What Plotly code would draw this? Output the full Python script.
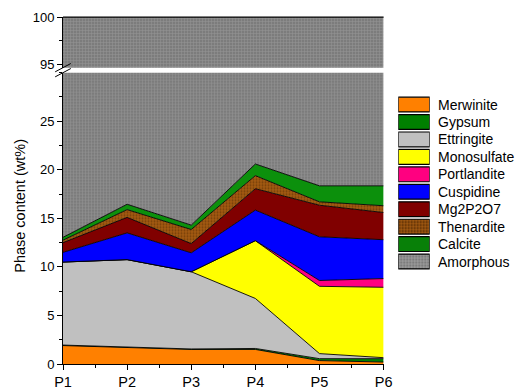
import plotly.graph_objects as go

samples = ["P1", "P2", "P3", "P4", "P5", "P6"]
merwinite   = [1.9, 1.7, 1.5, 1.5, 0.35, 0.2]
gypsum      = [0.05, 0.05, 0.05, 0.1, 0.2, 0.35]
ettringite  = [8.55, 9.0, 7.95, 5.15, 0.52, 0.1]
monosulfate = [0.0, 0.0, 0.0, 5.95, 6.93, 7.25]
portlandite = [0.0, 0.0, 0.0, 0.0, 0.6, 0.9]
cuspidine   = [1.0, 2.75, 1.95, 3.15, 4.5, 4.0]
mg2p2o7     = [1.0, 1.6, 0.95, 2.2, 3.25, 2.8]
thenardite  = [0.25, 0.8, 1.45, 1.35, 0.35, 0.7]
calcite     = [0.3, 0.55, 0.45, 1.2, 1.65, 2.05]
crystalline = [merwinite, gypsum, ettringite, monosulfate, portlandite,
               cuspidine, mg2p2o7, thenardite, calcite]
amorphous = [100 - sum(v[i] for v in crystalline) for i in range(len(samples))]
total = [100.0] * len(samples)

x = list(range(len(samples)))

pat_then = dict(shape=".", fgcolor="#4a2400", bgcolor="#A35A12", size=3, solidity=0.35)
pat_calc = dict(shape="|", fgcolor="#006000", bgcolor="#10A010", size=2, solidity=0.5)
pat_amor = dict(shape="+", fgcolor="#b0b0b0", bgcolor="#7c7c7c", size=3, solidity=0.3)

series = [
    ("Merwinite", merwinite, "#FF8000", None),
    ("Gypsum", gypsum, "#008000", None),
    ("Ettringite", ettringite, "#C0C0C0", None),
    ("Monosulfate", monosulfate, "#FFFF00", None),
    ("Portlandite", portlandite, "#FF0080", None),
    ("Cuspidine", cuspidine, "#0000FF", None),
    ("Mg2P2O7", mg2p2o7, "#800000", None),
    ("Thenardite", thenardite, "#9A4C00", pat_then),
    ("Calcite", calcite, "#008000", pat_calc),
    ("Amorphous", amorphous, "#888888", pat_amor),
]
names = [s[0] for s in series]

FONT = "Liberation Sans, Arial, sans-serif"
fig = go.Figure()
for name, vals, col, pat in series:
    kw = dict(x=x, y=vals, name=name, mode="lines", stackgroup="one", showlegend=False,
              line=dict(color="black", width=0.9), fillcolor=col,
              xaxis="x", yaxis="y")
    if pat:
        kw["fillpattern"] = pat
    fig.add_trace(go.Scatter(**kw))

# upper panel: amorphous continues up to 100
fig.add_trace(go.Scatter(x=x, y=total, mode="lines", fill="tozeroy", showlegend=False,
                         line=dict(color="black", width=0.9), fillcolor="#888888",
                         fillpattern=pat_amor, xaxis="x", yaxis="y2", hoverinfo="skip"))

# legend swatches drawn as bars on a hidden axis
for name, vals, col, pat in series:
    mk = dict(color=col, line=dict(color="black", width=1.2))
    if pat:
        mk["pattern"] = dict(shape=pat["shape"], fgcolor=pat["fgcolor"], bgcolor=pat["bgcolor"],
                             size=pat["size"], solidity=pat["solidity"], fillmode="replace")
    fig.add_trace(go.Bar(x=[1], y=[name], orientation="h", marker=mk, showlegend=False,
                         xaxis="x3", yaxis="y3", hoverinfo="skip"))
    fig.add_annotation(text=name, xref="paper", yref="y3", x=0.828, y=name, xanchor="left",
                       yanchor="middle", showarrow=False, font=dict(family=FONT, size=14, color="black"))

PW = 460.0
xd = 327 / PW
lower_top = 0.8395
upper_bot = 0.854

tick = dict(ticks="outside", ticklen=5, tickcolor="black", showline=True, linecolor="black",
            linewidth=1, showgrid=False, zeroline=False)

fig.update_layout(
    width=523, height=390,
    margin=dict(l=63, r=0, t=17, b=24),
    paper_bgcolor="white", plot_bgcolor="white",
    font=dict(family=FONT, size=13, color="black"),
    showlegend=False, bargap=0.15,
    xaxis=dict(domain=[0, xd], range=[0, 5], tickvals=x, ticktext=samples, anchor="y",
               tickfont=dict(size=14.5),
               minor=dict(dtick=0.5, tick0=0, ticks="outside", ticklen=3, tickcolor="black"), **tick),
    yaxis=dict(domain=[0, lower_top], range=[0, 30], tickvals=[0, 5, 10, 15, 20, 25], anchor="x",
               minor=dict(dtick=2.5, tick0=0, ticks="outside", ticklen=3, tickcolor="black"), **tick),
    yaxis2=dict(domain=[upper_bot, 1], range=[94.7, 100], tickvals=[95, 100], anchor="x",
                minor=dict(dtick=2.5, tick0=95, ticks="outside", ticklen=3, tickcolor="black"), **tick),
    xaxis3=dict(domain=[(405 - 63) / PW, (437 - 63) / PW], range=[0, 1], visible=False,
                anchor="y3", fixedrange=True),
    yaxis3=dict(domain=[0.2665, 0.7765], categoryorder="array", categoryarray=names,
                autorange="reversed", visible=False, anchor="x3", fixedrange=True),
)
# top frame line of the upper panel
fig.add_shape(type="line", xref="paper", yref="paper", x0=0, x1=xd, y0=1, y1=1,
              line=dict(color="black", width=1))
# axis break marks
bw = 8 / PW
for yy in (lower_top, upper_bot):
    fig.add_shape(type="line", xref="paper", yref="paper", x0=-bw, x1=bw,
                  y0=yy - 0.012, y1=yy + 0.012, line=dict(color="black", width=1))

fig.add_annotation(text="Phase content (wt%)", xref="paper", yref="paper", x=(19.5 - 63) / PW, y=0.457,
                   textangle=-90, showarrow=False, font=dict(size=14.5, family=FONT),
                   xanchor="center", yanchor="middle")

fig.write_html("out.html")
